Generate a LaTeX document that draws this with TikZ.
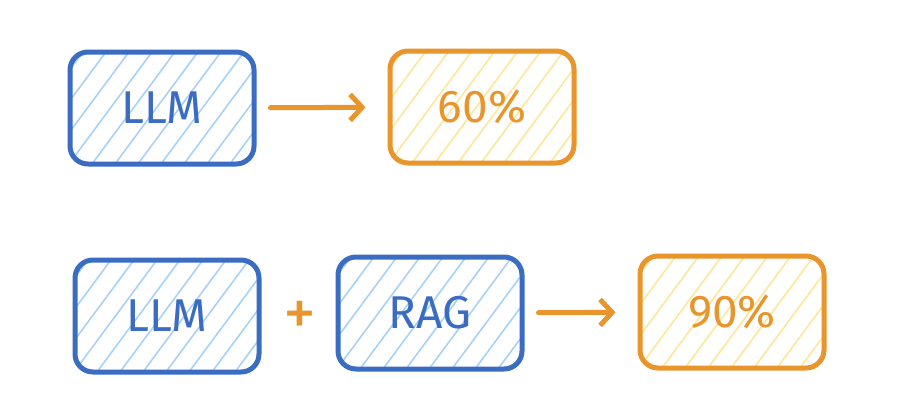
\documentclass[tikz,border=0pt]{standalone}
\usepackage{fontspec}
\setmainfont{Fira Sans}
\usetikzlibrary{arrows.meta,calc}
\definecolor{bstroke}{HTML}{3A6CC2}
\definecolor{bhatch}{HTML}{A9D1F5}
\definecolor{ostroke}{HTML}{E8952C}
\definecolor{ohatch}{HTML}{FCE79A}
\tikzset{
  hatchbox/.style={rounded corners=18pt, line width=5pt, minimum width=184pt, minimum height=112pt,
    font=\fontsize{46}{48}\selectfont,
    path picture={
      \foreach \i in {-8,...,14}{
        \draw[#1, line width=1.6pt]
          ($(path picture bounding box.south west)+(\i*23pt-4pt,-4pt)$) -- ++(100pt,135pt);
      }
    }},
  bluebox/.style={hatchbox=bhatch, draw=bstroke, text=bstroke},
  orangebox/.style={hatchbox=ohatch, draw=ostroke, text=ostroke},
  flow/.style={draw=ostroke, line width=5pt, line cap=round, line join=round,
    -{Straight Barb[length=12pt,width=26pt,line width=5pt]}, shorten <=14pt, shorten >=22pt},
}
\begin{document}
\begin{tikzpicture}[x=1pt,y=-1pt]
\useasboundingbox[fill=white] (0,0) rectangle (912,400);
\node[bluebox] (llmA) at (162,108) {LLM};
\node[orangebox] (pA) at (482,107) {60\%};
\draw[flow] (llmA) -- (pA);
\node[bluebox] (llmB) at (167,316) {LLM};
\node[text=ostroke, font=\fontsize{66}{68}\selectfont] (plus) at (300,318) {+};
\node[bluebox] (rag) at (430,313) {RAG};
\node[orangebox] (pB) at (732,312) {90\%};
\draw[flow] (rag) -- (pB);
\end{tikzpicture}
\end{document}
